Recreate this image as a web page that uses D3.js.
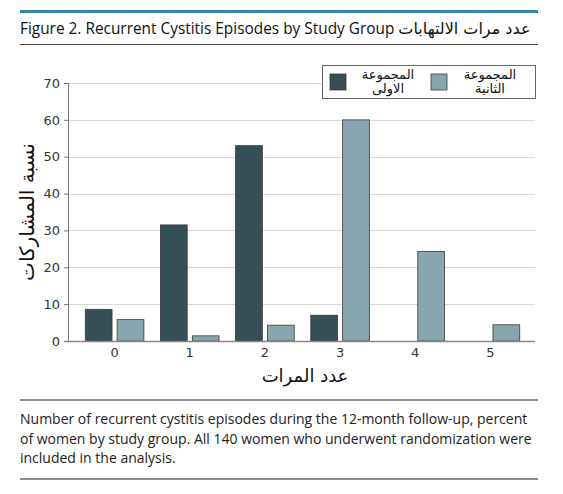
<!DOCTYPE html>
<html>
<head>
<meta charset="utf-8">
<script src="https://cdn.jsdelivr.net/npm/d3@7"></script>
<style>
  body { margin: 0; background: #fff; }
  svg { display: block; font-family: "Open Sans", "DejaVu Sans", sans-serif; }
</style>
</head>
<body>
<svg id="chart" width="563" height="494"></svg>
<script>
const episodes = ['0', '1', '2', '3', '4', '5'];
const groupNames = ['المجموعة|الاولى', 'المجموعة|الثانية'];
const group1 = [8.6, 31.5, 53, 7, 0, 0];
const group2 = [5.8, 1.4, 4.3, 60, 24.3, 4.4];
const yTicks = [0, 10, 20, 30, 40, 50, 60, 70];
const captionLines = [
  'Number of recurrent cystitis episodes during the 12-month follow-up, percent',
  'of women by study group. All 140 women who underwent randomization were',
  'included in the analysis.'
];

const colors = ['#344f56', '#88a6ae'];
const svg = d3.select('#chart');

// header
svg.append('rect').attr('x', 20).attr('y', 10).attr('width', 518).attr('height', 3).attr('fill', '#3585a8');
const title = svg.append('text').attr('x', 20).attr('y', 34)
  .attr('font-size', 15.4).attr('fill', '#111');
title.append('tspan').text('Figure 2. Recurrent Cystitis Episodes by Study Group ');
title.append('tspan').attr('font-family', '"DejaVu Sans", sans-serif').attr('font-size', 16)
  .text('عدد مرات الالتهابات');
svg.append('line').attr('x1', 20).attr('x2', 538).attr('y1', 44.5).attr('y2', 44.5)
  .attr('stroke', '#444').attr('stroke-width', 1.2);

// scales
const x = d3.scaleBand().domain(episodes).range([77, 528]).paddingInner(0).paddingOuter(0);
const xs = d3.scaleBand().domain([0, 1]).range([0, x.bandwidth()]).paddingInner(0.16).paddingOuter(0.26);
const y = d3.scaleLinear().domain([0, 70]).range([341, 83]);

// grid
svg.append('g').selectAll('line').data(yTicks.slice(1)).join('line')
  .attr('x1', 68).attr('x2', 535)
  .attr('y1', d => Math.round(y(d)) + 0.5).attr('y2', d => Math.round(y(d)) + 0.5)
  .attr('stroke', '#d9d9d9').attr('stroke-width', 1);

// bars
const rows = episodes.map((e, i) => ({ e, vals: [group1[i], group2[i]] }));
const grp = svg.append('g').selectAll('g').data(rows).join('g')
  .attr('transform', d => `translate(${x(d.e)},0)`);
grp.selectAll('rect').data(d => d.vals.map((v, k) => ({ v, k })).filter(o => o.v > 0)).join('rect')
  .attr('x', d => xs(d.k))
  .attr('width', xs.bandwidth())
  .attr('y', d => y(d.v))
  .attr('height', d => y(0) - y(d.v))
  .attr('fill', d => colors[d.k])
  .attr('stroke', '#3a3a3a').attr('stroke-width', 0.8);

// y axis
const yAxis = svg.append('g').attr('transform', 'translate(68,0)')
  .call(d3.axisLeft(y).tickValues(yTicks).tickSize(4).tickPadding(4));
yAxis.select('.domain').attr('stroke', '#777');
yAxis.selectAll('.tick line').attr('stroke', '#777');
yAxis.selectAll('.tick text').attr('font-size', 13).attr('fill', '#333')
  .attr('font-family', '"DejaVu Sans", sans-serif');

// x axis
const xAxis = svg.append('g').attr('transform', 'translate(0,341)')
  .call(d3.axisBottom(x).tickSize(0).tickPadding(7));
xAxis.select('.domain').remove();
xAxis.selectAll('.tick text').attr('font-size', 13).attr('fill', '#333')
  .attr('font-family', '"DejaVu Sans", sans-serif');
svg.append('line').attr('x1', 65).attr('x2', 535).attr('y1', 341.5).attr('y2', 341.5)
  .attr('stroke', '#888').attr('stroke-width', 1.5);

// axis titles
svg.append('text').attr('transform', 'translate(34,212) rotate(-90)')
  .attr('text-anchor', 'middle').attr('font-size', 20).attr('fill', '#111')
  .attr('font-family', '"DejaVu Sans", sans-serif')
  .text('نسبة المشاركات');
svg.append('text').attr('x', 305).attr('y', 382)
  .attr('text-anchor', 'middle').attr('font-size', 18).attr('fill', '#111')
  .attr('font-family', '"DejaVu Sans", sans-serif')
  .text('عدد المرات');

// legend
svg.append('rect').attr('x', 322.5).attr('y', 65.5).attr('width', 213).attr('height', 33)
  .attr('fill', '#fff').attr('stroke', '#666').attr('stroke-width', 1);
const legendX = [330, 431];
const legendTextX = [388, 490];
groupNames.forEach((name, k) => {
  svg.append('rect').attr('x', legendX[k]).attr('y', 74).attr('width', 16).attr('height', 16)
    .attr('fill', colors[k]).attr('stroke', '#3a3a3a').attr('stroke-width', 0.8);
  const t = svg.append('text').attr('text-anchor', 'middle').attr('font-size', 13).attr('fill', '#111')
    .attr('font-family', '"DejaVu Sans", sans-serif');
  name.split('|').forEach((part, j) => {
    t.append('tspan').attr('x', legendTextX[k]).attr('y', 79 + j * 14).text(part);
  });
});

// caption
svg.append('line').attr('x1', 20).attr('x2', 538).attr('y1', 400).attr('y2', 400)
  .attr('stroke', '#666').attr('stroke-width', 1.5);
svg.append('g').selectAll('text').data(captionLines).join('text')
  .attr('x', 20).attr('y', (d, i) => 424 + i * 19.5)
  .attr('font-size', 14).attr('fill', '#222')
  .text(d => d);
svg.append('line').attr('x1', 20).attr('x2', 538).attr('y1', 479).attr('y2', 479)
  .attr('stroke', '#666').attr('stroke-width', 1.5);
</script>
</body>
</html>
